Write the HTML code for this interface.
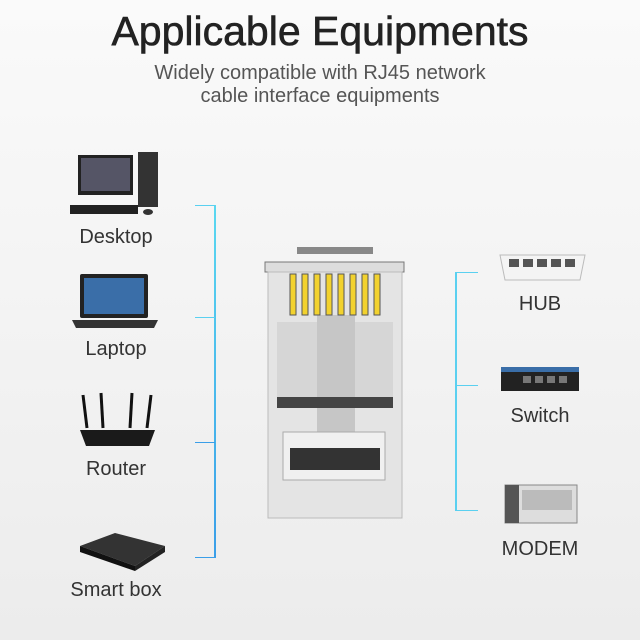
<!DOCTYPE html>
<html><head><style>
body{margin:0;width:640px;height:640px;background:linear-gradient(#fafafa,#ececec);font-family:"Liberation Sans",sans-serif;position:relative;overflow:hidden}
.t{position:absolute;left:0;width:640px;text-align:center;color:#222}
.l{position:absolute;font-size:20px;color:#333;text-align:center;width:140px}
.a{position:absolute;background:#5ad0f0}
.d{position:absolute}
</style></head><body>
<div class="t" style="top:8px;font-size:41px;font-weight:500;-webkit-text-stroke:0.6px #222">Applicable Equipments</div>
<div class="t" style="top:62px;font-size:20px;line-height:23px;color:#555">Widely compatible with RJ45 network<br>cable interface equipments</div>

<div class="a" style="left:214px;top:205px;width:2px;height:353px;background:linear-gradient(#5ad8f0,#3a9ee8)"></div>
<div class="a" style="left:195px;top:205px;width:20px;height:1px"></div>
<div class="a" style="left:195px;top:317px;width:20px;height:1px"></div>
<div class="a" style="left:195px;top:442px;width:20px;height:1px;background:#3a9ee8"></div>
<div class="a" style="left:195px;top:557px;width:20px;height:1px;background:#3a9ee8"></div>
<div class="a" style="left:455px;top:272px;width:2px;height:239px"></div>
<div class="a" style="left:455px;top:272px;width:23px;height:1px"></div>
<div class="a" style="left:455px;top:385px;width:23px;height:1px"></div>
<div class="a" style="left:455px;top:510px;width:23px;height:1px"></div>

<!-- connector -->
<svg class="d" style="left:0;top:0" width="640" height="640">
<rect x="297" y="247" width="76" height="7" fill="#888"/>
<rect x="265" y="262" width="139" height="10" fill="#ddd" stroke="#777"/>
<rect x="268" y="272" width="134" height="246" fill="#e4e4e4" stroke="#bbb"/>
<rect x="277" y="322" width="116" height="75" fill="#d6d6d6"/>
<rect x="317" y="315" width="38" height="130" fill="#c6c6c6"/>
<g fill="#f2d22e" stroke="#555" stroke-width="1">
<rect x="290" y="274" width="6" height="41"/><rect x="302" y="274" width="6" height="41"/><rect x="314" y="274" width="6" height="41"/><rect x="326" y="274" width="6" height="41"/><rect x="338" y="274" width="6" height="41"/><rect x="350" y="274" width="6" height="41"/><rect x="362" y="274" width="6" height="41"/><rect x="374" y="274" width="6" height="41"/></g>
<rect x="277" y="397" width="116" height="11" fill="#444"/>
<rect x="283" y="432" width="102" height="48" fill="#f0f0f0" stroke="#aaa"/>
<rect x="290" y="448" width="90" height="22" fill="#333"/>
</svg>

<!-- left devices -->
<svg class="d" style="left:68px;top:150px" width="100" height="70"><rect x="10" y="5" width="55" height="40" fill="#222"/><rect x="13" y="8" width="49" height="33" fill="#556"/><rect x="70" y="2" width="20" height="55" fill="#333"/><rect x="2" y="55" width="68" height="9" fill="#222"/><ellipse cx="80" cy="62" rx="5" ry="3" fill="#333"/></svg>
<div class="l" style="left:46px;top:226px">Desktop</div>
<svg class="d" style="left:70px;top:272px" width="90" height="60"><rect x="10" y="2" width="68" height="44" rx="2" fill="#222"/><rect x="14" y="6" width="60" height="36" fill="#3a6ea8"/><path d="M2 48h86l-4 8H6z" fill="#333"/></svg>
<div class="l" style="left:46px;top:338px">Laptop</div>
<svg class="d" style="left:75px;top:390px" width="85" height="60"><g stroke="#111" stroke-width="3"><line x1="12" y1="38" x2="8" y2="5"/><line x1="28" y1="38" x2="26" y2="3"/><line x1="55" y1="38" x2="57" y2="3"/><line x1="72" y1="38" x2="76" y2="5"/></g><path d="M5 40h75l-6 16H11z" fill="#1a1a1a"/></svg>
<div class="l" style="left:46px;top:458px">Router</div>
<svg class="d" style="left:75px;top:528px" width="95" height="45"><path d="M5 18L40 5 90 18 60 38z" fill="#333"/><path d="M5 18l55 20v5L5 24z" fill="#111"/><path d="M60 38l30-20v6L60 43z" fill="#222"/></svg>
<div class="l" style="left:46px;top:579px">Smart box</div>

<!-- right devices -->
<svg class="d" style="left:495px;top:245px" width="95" height="45"><path d="M5 10h85l-5 25H10z" fill="#f4f4f4" stroke="#bbb"/><g fill="#555"><rect x="14" y="14" width="10" height="8"/><rect x="28" y="14" width="10" height="8"/><rect x="42" y="14" width="10" height="8"/><rect x="56" y="14" width="10" height="8"/><rect x="70" y="14" width="10" height="8"/></g></svg>
<div class="l" style="left:470px;top:293px">HUB</div>
<svg class="d" style="left:498px;top:362px" width="85" height="35"><rect x="3" y="5" width="78" height="24" fill="#222"/><rect x="3" y="5" width="78" height="5" fill="#3a6ea8"/><g fill="#777"><rect x="25" y="14" width="8" height="7"/><rect x="37" y="14" width="8" height="7"/><rect x="49" y="14" width="8" height="7"/><rect x="61" y="14" width="8" height="7"/></g></svg>
<div class="l" style="left:470px;top:405px">Switch</div>
<svg class="d" style="left:500px;top:480px" width="85" height="50"><rect x="5" y="5" width="72" height="38" fill="#ddd" stroke="#888"/><rect x="5" y="5" width="14" height="38" fill="#555"/><rect x="22" y="10" width="50" height="20" fill="#bbb"/></svg>
<div class="l" style="left:470px;top:538px">MODEM</div>
</body></html>
